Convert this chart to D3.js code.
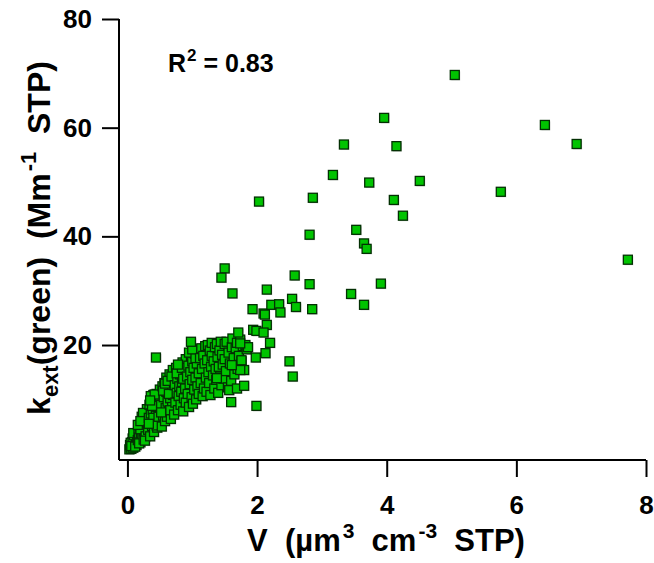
<!DOCTYPE html>
<html>
<head>
<meta charset="utf-8">
<script src="https://cdn.jsdelivr.net/npm/d3@7"></script>
<style>
  html, body { margin: 0; padding: 0; background: #fff; }
  svg { display: block; font-family: "Liberation Sans", Arial, sans-serif; font-weight: bold; }
  text { white-space: pre; }
</style>
</head>
<body>
<svg id="chart" width="654" height="563"></svg>
<script>
// Particle volume (µm3 cm-3 STP) and extinction (Mm-1 STP)
const volume = [
  // dense cluster near origin
  0.03,0.05,0.04,0.06,0.08,0.07,0.09,0.10,0.05,0.11,0.12,0.08,0.13,0.10,0.14,0.06,0.15,0.12,0.09,0.16,
  0.17,0.18,0.19,0.20,0.21,0.22,0.23,0.24,0.25,0.26,0.27,0.28,0.29,0.18,0.20,0.22,0.25,0.30,0.30,0.28,0.16,0.24,0.20,0.27,
  0.32,0.33,0.34,0.35,0.36,0.37,0.38,0.39,0.40,0.41,0.42,0.43,0.44,0.45,0.46,0.47,0.48,0.49,0.50,0.50,0.36,0.40,0.38,0.45,0.33,0.42,0.48,0.35,
  0.52,0.53,0.54,0.55,0.56,0.57,0.58,0.59,0.60,0.60,0.61,0.62,0.63,0.64,0.65,0.66,0.67,0.68,0.69,0.70,0.70,0.55,0.58,0.62,0.66,0.52,0.64,0.68,
  0.72,0.73,0.74,0.75,0.76,0.77,0.78,0.79,0.80,0.80,0.81,0.82,0.83,0.84,0.85,0.86,0.87,0.88,0.89,0.90,0.90,0.76,0.84,0.78,0.86,
  0.92,0.93,0.94,0.95,0.96,0.97,0.98,0.99,1.00,1.00,1.01,1.02,1.03,1.04,1.05,1.06,1.07,1.08,1.09,1.10,1.10,0.95,1.05,1.00,
  1.12,1.13,1.14,1.15,1.16,1.17,1.18,1.19,1.20,1.21,1.22,1.23,1.24,1.25,1.26,1.27,1.28,1.29,1.30,1.30,
  1.32,1.33,1.34,1.35,1.36,1.37,1.38,1.39,1.40,1.41,1.42,1.43,1.44,1.45,1.46,1.47,1.48,1.50,1.50,
  1.52,1.53,1.55,1.56,1.58,1.60,1.61,1.62,1.64,1.65,1.67,1.69,1.70,1.72,1.74,1.76,1.78,1.80,1.82,1.84,
  1.57,1.69,1.80,1.60,1.99,1.74,1.61,1.76,1.38,
  // scattered points
  0.44,0.98,1.50,1.45,1.62,1.94,2.10,2.15,1.71,1.99,2.10,1.86,1.74,2.20,1.98,2.13,2.50,2.55,
  2.03,2.15,2.54,2.60,2.85,2.22,2.34,1.93,2.12,2.36,2.81,2.58,2.81,3.91,3.45,3.65,
  3.53,3.65,3.69,2.86,4.11,4.25,3.17,3.73,4.51,5.76,3.34,4.15,6.93,3.96,6.44,5.05,7.72
];
const kext = [
  0.8,1.2,1.6,0.9,1.5,2.1,1.1,2.6,2.0,1.8,3.0,2.8,2.2,3.4,1.6,1.4,3.6,1.3,3.8,2.5,
  4.2,3.0,5.0,2.1,3.8,5.6,2.9,4.6,6.3,3.4,5.2,7.0,4.0,1.9,4.5,6.8,2.6,5.8,8.2,3.2,5.3,7.5,6.0,2.4,
  4.4,6.6,9.0,3.2,7.4,10.2,5.1,8.1,10.8,4.0,6.0,9.4,7.0,11.0,4.8,8.6,10.0,5.8,7.6,11.8,10.6,6.6,8.8,5.2,5.5,10.9,6.8,9.8,
  9.0,5.0,12.4,7.0,10.4,13.0,6.0,8.4,11.4,14.0,6.8,9.6,12.6,7.8,14.6,10.2,6.4,12.0,8.6,15.4,10.8,11.6,12.9,13.4,8.0,7.6,11.0,14.2,
  7.2,12.6,9.4,15.8,11.2,13.8,8.0,10.6,16.2,12.4,14.6,9.0,11.4,13.2,16.8,7.8,10.2,15.2,12.0,17.4,9.4,14.8,15.8,16.4,13.8,
  14.2,11.0,16.2,8.6,12.8,15.0,18.0,10.4,13.6,17.0,9.2,15.8,11.8,18.4,14.0,10.0,16.6,12.4,19.0,14.8,11.0,18.6,17.6,19.2,
  17.6,13.0,19.4,15.6,10.6,18.0,12.0,16.6,19.8,14.0,11.4,17.2,20.0,15.0,13.0,19.0,10.8,16.0,20.4,18.0,
  14.4,17.0,12.0,19.6,15.6,13.6,20.2,17.8,11.2,16.0,19.0,14.2,20.6,12.6,18.2,16.4,13.8,20.2,17.4,
  15.2,20.6,12.2,18.6,16.6,13.4,19.6,21.2,17.6,14.6,19.4,20.4,15.6,18.0,21.0,17.0,19.8,15.4,20.0,19.2,
  11.7,12.0,12.5,9.5,8.8,15.4,16.3,17.2,13.9,
  17.7,20.6,34.1,32.4,29.5,22.8,25.8,23.7,22.3,22.6,22.3,19.6,20.3,20.4,17.7,18.5,17.0,14.2,
  46.4,30.2,28.5,27.0,26.6,27.4,27.5,26.6,25.6,26.0,31.2,32.8,40.3,31.3,29.4,27.4,
  41.2,38.7,37.7,47.1,46.7,43.8,51.3,49.9,50.2,48.2,56.9,56.6,57.0,61.8,60.5,69.7,35.7
];
const xTicks = [0, 2, 4, 6, 8];
const yTicks = [20, 40, 60, 80];
const rSquared = "0.83";

const svg = d3.select("#chart");
const x = d3.scaleLinear().domain([-0.13, 8]).range([119, 646]);
const y = d3.scaleLinear().domain([-1.16, 80]).range([460, 19]);

const points = volume.map((v, i) => ({ v, k: kext[i] }));

// markers
const ms = 9;
const g = svg.append("g");
g.selectAll("rect.shadow").data(points).enter().append("rect")
  .attr("class", "shadow")
  .attr("x", d => x(d.v) - ms / 2 + 1)
  .attr("y", d => y(d.k) - ms / 2 + 1)
  .attr("width", ms).attr("height", ms)
  .attr("fill", "#cfcfcf");
g.selectAll("rect.pt").data(points).enter().append("rect")
  .attr("class", "pt")
  .attr("x", d => x(d.v) - ms / 2)
  .attr("y", d => y(d.k) - ms / 2)
  .attr("width", ms).attr("height", ms)
  .attr("fill", "#00c400")
  .attr("stroke", "#033003")
  .attr("stroke-width", 1.3);

// axes
const xAxis = d3.axisBottom(x).tickValues(xTicks).tickSize(17).tickPadding(19).tickFormat(d3.format("d"));
const yAxis = d3.axisLeft(y).tickValues(yTicks).tickSize(17).tickPadding(10).tickFormat(d3.format("d"));

const gx = svg.append("g").attr("transform", "translate(0,460)").call(xAxis);
const gy = svg.append("g").attr("transform", "translate(119,0)").call(yAxis);
[gx, gy].forEach(a => {
  a.select(".domain").remove();
  a.selectAll(".tick line").attr("stroke", "#000").attr("stroke-width", 2);
  a.selectAll(".tick text").attr("fill", "#000")
    .style("font-size", "26px").style("font-weight", "bold")
    .style("font-family", "'Liberation Sans', Arial, sans-serif");
});
// axis lines
svg.append("line").attr("x1", x(-0.13)).attr("x2", x(8)).attr("y1", 460).attr("y2", 460)
  .attr("stroke", "#000").attr("stroke-width", 2);
svg.append("line").attr("x1", 119).attr("x2", 119).attr("y1", y(80)).attr("y2", 460)
  .attr("stroke", "#000").attr("stroke-width", 2);

// x title
const xt = svg.append("text").attr("x", 386).attr("y", 551).attr("text-anchor", "middle")
  .style("font-size", "31px");
xt.append("tspan").text("V  (µm");
xt.append("tspan").attr("dy", -13).attr("dx", 2).style("font-size", "21px").text("3");
xt.append("tspan").attr("dy", 13).text("  cm");
xt.append("tspan").attr("dy", -13).attr("dx", 2).style("font-size", "21px").text("-3");
xt.append("tspan").attr("dy", 13).text("  STP)");

// y title
const yt = svg.append("text").attr("transform", "translate(50,238) rotate(-90)")
  .attr("text-anchor", "middle").style("font-size", "32px");
yt.append("tspan").text("k");
yt.append("tspan").attr("dy", 8).style("font-size", "22px").text("ext");
yt.append("tspan").attr("dy", -8).text("(green)  (Mm");
yt.append("tspan").attr("dy", -14).attr("dx", 2).style("font-size", "22px").text("-1");
yt.append("tspan").attr("dy", 14).text("  STP)");

// R^2 annotation
const rt = svg.append("text").attr("x", 168).attr("y", 72).style("font-size", "25px");
rt.append("tspan").text("R");
rt.append("tspan").attr("dy", -11).attr("dx", 1).style("font-size", "17px").text("2");
rt.append("tspan").attr("dy", 11).text(" = " + rSquared);
</script>
</body>
</html>
